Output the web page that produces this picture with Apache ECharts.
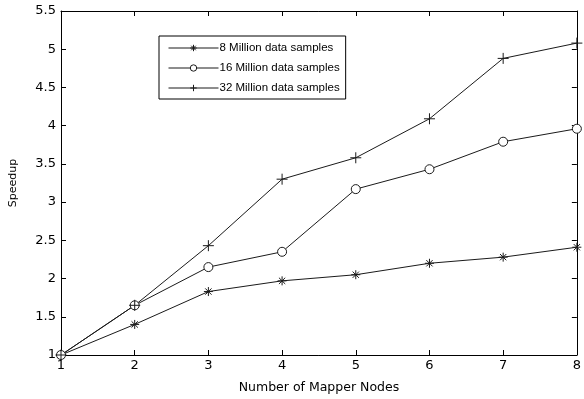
<!DOCTYPE html>
<html><head><meta charset="utf-8">
<script src="https://cdn.jsdelivr.net/npm/echarts@6/dist/echarts.min.js"></script>
<style>html,body{margin:0;padding:0;background:#fff}#c{width:584px;height:399px}</style>
</head><body><div id="c"></div>
<script>
const nodes = [1, 2, 3, 4, 5, 6, 7, 8];
const s8M = [1, 1.40, 1.83, 1.97, 2.05, 2.20, 2.28, 2.41];
const s16M = [1, 1.65, 2.15, 2.35, 3.17, 3.43, 3.79, 3.96];
const s32M = [1, 1.65, 2.43, 3.30, 3.58, 4.09, 4.88, 5.08];
const names = ['8 Million data samples', '16 Million data samples', '32 Million data samples'];

const FONT = '"Liberation Sans", Arial, sans-serif';
const AXFONT = '"DejaVu Sans", Verdana, sans-serif';
const starPath = 'path://M5,0L5,10M0,5L10,5M1.5,1.5L8.5,8.5M8.5,1.5L1.5,8.5';
const plusPath = 'path://M5,0L5,10M0,5L10,5';
const lineColor = '#1a1a1a';

function mk(name, vals, symbol, size, fill) {
  return {
    name: name, type: 'line', data: nodes.map((x, i) => [x, vals[i]]),
    symbol: symbol, symbolSize: size, showAllSymbol: true,
    lineStyle: { color: lineColor, width: 1 },
    itemStyle: { color: fill, borderColor: lineColor, borderWidth: 1 },
    emphasis: { disabled: true }, animation: false
  };
}

const chart = echarts.init(document.getElementById('c'));
const axisCommon = {
  axisLine: { show: true, lineStyle: { color: '#000', width: 1 } },
  axisTick: { show: true, inside: true, length: 5, lineStyle: { color: '#000' } },
  splitLine: { show: false }
};
chart.setOption({
  animation: false,
  textStyle: { fontFamily: FONT },
  grid: { left: 61, right: 3, top: 11, bottom: 37, containLabel: false },
  legend: {
    orient: 'vertical', left: 159, top: 36, data: names,
    itemWidth: 50, itemHeight: 8, itemGap: 8,
    padding: [6, 6, 5, 9],
    borderColor: '#000', borderWidth: 1, backgroundColor: '#fff',
    lineStyle: { width: 1 },
    itemStyle: { borderWidth: 1 },
    textStyle: { fontFamily: FONT, fontSize: 11.5, color: '#000', padding: [0, 0, 0, -4] },
    selectedMode: false
  },
  xAxis: [
    Object.assign({ type: 'value', min: 1, max: 8, interval: 1, position: 'bottom',
      name: 'Number of Mapper Nodes', nameLocation: 'middle', nameGap: 26,
      nameTextStyle: { fontFamily: AXFONT, fontSize: 12.5, color: '#000' },
      axisLabel: { color: '#000', fontSize: 13, margin: 4, fontFamily: AXFONT } }, axisCommon),
    Object.assign({ type: 'value', min: 1, max: 8, interval: 1, position: 'top',
      axisLabel: { show: false } }, axisCommon)
  ],
  yAxis: [
    Object.assign({ type: 'value', min: 1, max: 5.5, interval: 0.5, position: 'left',
      name: 'Speedup', nameLocation: 'middle', nameGap: 42,
      nameTextStyle: { fontFamily: AXFONT, fontSize: 11, color: '#000' },
      axisLabel: { color: '#000', fontSize: 13, margin: 5, fontFamily: AXFONT } }, axisCommon),
    Object.assign({ type: 'value', min: 1, max: 5.5, interval: 0.5, position: 'right',
      axisLabel: { show: false } }, axisCommon)
  ],
  series: [
    mk(names[0], s8M, starPath, 9, lineColor),
    mk(names[1], s16M, 'circle', 9, '#fff'),
    mk(names[2], s32M, plusPath, 11, lineColor)
  ]
});
</script></body></html>
